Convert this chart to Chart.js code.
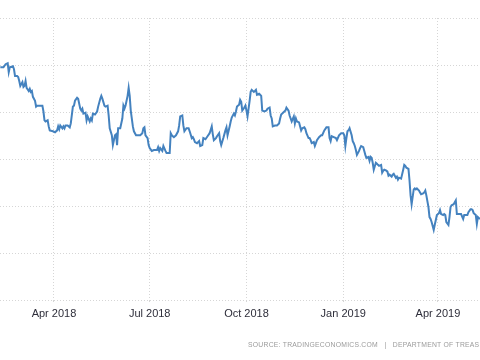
<!DOCTYPE html>
<html lang="en">
<head>
  <meta charset="UTF-8">
  <title>Spread</title>
  <script src="https://cdn.jsdelivr.net/npm/chart.js"></script>
  <style>
    body { margin: 0; background: #fff; }
    #wrap { position: relative; width: 480px; height: 360px; overflow: hidden; }
    #source {
      position: absolute; left: 248px; top: 341px; white-space: nowrap;
      font-family: "Liberation Sans", Arial, sans-serif; font-size: 6.8px;
      letter-spacing: 0.25px; color: #9a9a9a;
    }
  </style>
</head>
<body>

  <div id="wrap">
    <canvas id="spreadChart" width="480" height="360"></canvas>
    <div id="source">SOURCE: TRADINGECONOMICS.COM &nbsp;&nbsp;|&nbsp;&nbsp; DEPARTMENT OF TREASURY</div>
  </div>

  <script>
    // day of period = days since 1 Jan 2018
    const days = [
      39, 42, 44, 46, 47, 48, 51, 52, 53, 55, 56, 57, 58, 60, 61, 62, 63, 64, 66, 67, 68, 69, 70, 72, 73, 74, 77, 79, 80, 81,
      82, 84, 85, 86, 89, 91, 93, 94, 95, 96, 98, 99, 100, 101, 103, 105, 106, 108, 109, 110, 112, 113, 115, 116, 117, 118, 120, 121, 122, 124,
      125, 126, 127, 129, 131, 132, 134, 135, 136, 138, 139, 141, 142, 143, 145, 146, 148, 149, 150, 151, 153, 155, 156, 157, 158, 160, 161, 162, 163, 165,
      166, 168, 170, 172, 174, 175, 176, 177, 179, 180, 181, 183, 185, 188, 189, 190, 191, 193, 194, 196, 197, 200, 201, 202, 204, 206, 208, 209, 210, 212,
      213, 214, 216, 218, 219, 221, 222, 223, 224, 226, 228, 229, 231, 232, 234, 236, 238, 240, 241, 242, 244, 245, 247, 248, 249, 251, 253, 254, 255, 257,
      258, 259, 261, 262, 263, 264, 266, 267, 268, 269, 271, 272, 273, 274, 276, 277, 278, 280, 281, 282, 283, 285, 286, 287, 288, 290, 292, 293, 295, 296,
      297, 298, 300, 302, 304, 305, 306, 307, 309, 310, 311, 313, 314, 315, 316, 318, 319, 320, 321, 323, 324, 325, 326, 328, 329, 330, 332, 333, 334, 335,
      337, 338, 339, 340, 342, 344, 345, 347, 349, 351, 352, 353, 354, 356, 358, 359, 361, 363, 365, 366, 367, 368, 369, 370, 371, 373, 374, 375, 376, 377,
      378, 380, 381, 382, 384, 385, 386, 387, 389, 390, 391, 392, 393, 394, 396, 397, 398, 399, 401, 402, 403, 404, 406, 407, 408, 409, 411, 412, 413, 415,
      416, 417, 418, 420, 422, 423, 424, 425, 427, 428, 429, 430, 432, 433, 434, 435, 437, 438, 439, 441, 442, 443, 444, 446, 447, 448, 449, 451, 452, 453,
      454, 456, 457, 458, 460, 461, 462, 463, 465, 466, 467, 468, 470, 471, 472, 473, 475, 477, 479, 480, 482, 483, 484, 486, 487, 488, 489, 491, 492, 493,
      495
    ];
    const spread = [
      1.239, 1.239, 1.255, 1.260, 1.213, 1.239, 1.244, 1.228, 1.192, 1.192, 1.187, 1.166, 1.140, 1.160, 1.134, 1.140, 1.166, 1.129, 1.113, 1.124, 1.108, 1.113, 1.082, 1.061, 1.030, 1.035, 1.035, 1.035, 1.004, 0.957,
      0.951, 0.957, 0.925, 0.904, 0.899, 0.894, 0.904, 0.925, 0.910, 0.930, 0.915, 0.925, 0.915, 0.930, 0.930, 0.920, 0.941, 1.030, 1.035, 1.061, 1.077, 1.072, 1.019, 1.009, 1.019, 0.993, 0.998, 0.957, 0.978, 0.951,
      0.967, 0.957, 0.993, 0.988, 1.004, 1.030, 1.072, 1.087, 1.072, 1.035, 1.030, 1.035, 0.983, 0.915, 0.878, 0.826, 0.878, 0.883, 0.826, 0.915, 0.915, 0.967, 1.035, 1.019, 1.035, 1.087, 1.129, 1.087, 1.009, 0.925,
      0.899, 0.878, 0.878, 0.878, 0.889, 0.915, 0.920, 0.878, 0.863, 0.826, 0.810, 0.795, 0.800, 0.800, 0.815, 0.795, 0.810, 0.795, 0.821, 0.795, 0.784, 0.784, 0.889, 0.878, 0.868, 0.878, 0.899, 0.930, 0.978, 0.983,
      0.930, 0.899, 0.915, 0.915, 0.899, 0.863, 0.868, 0.857, 0.842, 0.836, 0.847, 0.821, 0.826, 0.863, 0.857, 0.873, 0.889, 0.925, 0.883, 0.852, 0.863, 0.873, 0.889, 0.847, 0.826, 0.863, 0.904, 0.920, 0.878, 0.925,
      0.951, 0.972, 0.993, 0.983, 1.004, 1.030, 1.040, 1.066, 1.056, 1.009, 1.025, 1.035, 1.009, 0.978, 1.061, 1.108, 1.119, 1.108, 1.113, 1.119, 1.093, 1.098, 1.093, 1.087, 1.009, 1.004, 1.009, 1.019, 1.025, 0.983,
      0.967, 0.925, 0.930, 0.930, 0.941, 0.967, 0.988, 0.993, 1.004, 1.009, 1.025, 1.009, 0.983, 0.967, 0.951, 0.978, 0.941, 0.967, 0.951, 0.946, 0.925, 0.904, 0.915, 0.920, 0.910, 0.889, 0.863, 0.863, 0.852, 0.836,
      0.842, 0.821, 0.836, 0.852, 0.868, 0.878, 0.878, 0.904, 0.920, 0.920, 0.863, 0.847, 0.873, 0.868, 0.863, 0.852, 0.878, 0.889, 0.889, 0.878, 0.821, 0.863, 0.899, 0.904, 0.915, 0.878, 0.847, 0.836, 0.821, 0.800,
      0.774, 0.795, 0.810, 0.821, 0.815, 0.795, 0.774, 0.758, 0.763, 0.742, 0.763, 0.758, 0.732, 0.695, 0.732, 0.727, 0.721, 0.716, 0.721, 0.680, 0.690, 0.695, 0.690, 0.685, 0.664, 0.669, 0.659, 0.669, 0.674, 0.653,
      0.659, 0.643, 0.653, 0.648, 0.695, 0.721, 0.716, 0.706, 0.700, 0.638, 0.559, 0.512, 0.591, 0.596, 0.591, 0.596, 0.585, 0.575, 0.565, 0.570, 0.575, 0.585, 0.559, 0.497, 0.444, 0.434, 0.418, 0.376, 0.403, 0.429,
      0.455, 0.465, 0.481, 0.460, 0.455, 0.460, 0.455, 0.418, 0.403, 0.444, 0.497, 0.507, 0.512, 0.523, 0.533, 0.460, 0.460, 0.460, 0.434, 0.455, 0.455, 0.455, 0.470, 0.486, 0.486, 0.481, 0.465, 0.455, 0.408, 0.444,
      0.434
    ];
    const tickDays = [90, 181, 273, 365, 455];
    const tickLabels = ['Apr 2018', 'Jul 2018', 'Oct 2018', 'Jan 2019', 'Apr 2019'];

    const points = days.map((d, i) => ({ x: d, y: spread[i] }));

    const ctx = document.getElementById('spreadChart').getContext('2d');
    const chart = new Chart(ctx, {
      type: 'line',
      data: {
        datasets: [{
          data: points,
          borderColor: '#4482bf',
          borderWidth: 2,
          pointRadius: 0,
          tension: 0,
          fill: false
        }]
      },
      options: {
        responsive: false,
        animation: false,
        layout: { padding: { top: 18, bottom: 35, left: 0, right: 0 } },
        plugins: { legend: { display: false }, tooltip: { enabled: false } },
        scales: {
          x: {
            type: 'linear',
            min: 38.7,
            max: 495,
            afterBuildTicks: scale => { scale.ticks = tickDays.map(v => ({ value: v })); },
            ticks: {
              autoSkip: false,
              maxRotation: 0,
              padding: 4,
              color: '#2e2e3a',
              font: { family: '"Liberation Sans", Arial, sans-serif', size: 11 },
              callback: value => tickLabels[tickDays.indexOf(value)]
            },
            grid: { color: '#d6d6d6', tickColor: '#d6d6d6', tickLength: 3, tickBorderDash: [1, 2] },
            border: { display: false, dash: [1, 2] }
          },
          y: {
            min: 0,
            max: 1.5,
            ticks: { stepSize: 0.25, display: false },
            grid: { color: '#d6d6d6', drawTicks: false },
            border: { display: false, dash: [1, 2] }
          }
        }
      }
    });
  </script>

</body>
</html>
